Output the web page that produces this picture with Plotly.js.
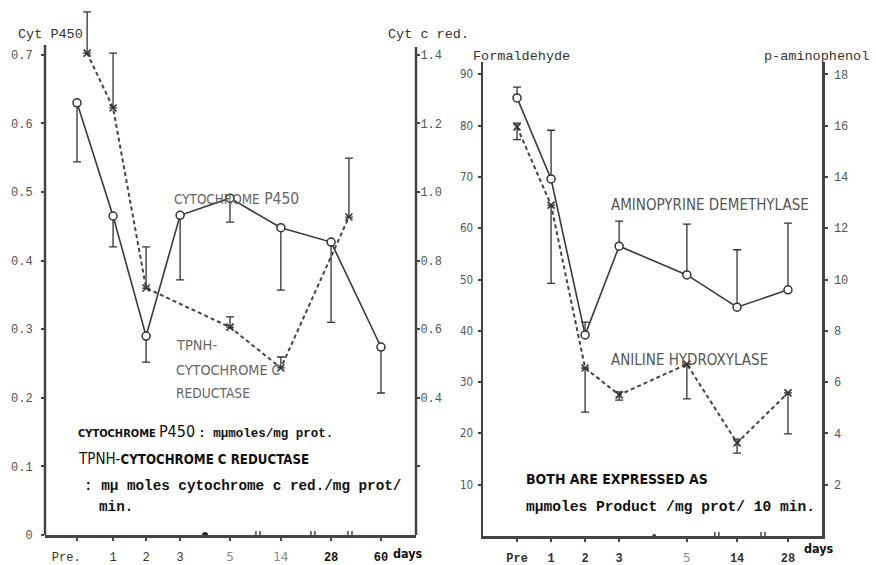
<!DOCTYPE html>
<html>
<head>
<meta charset="utf-8">
<script src="https://cdn.plot.ly/plotly-3.0.1.min.js"></script>
<style>
  html, body { margin: 0; padding: 0; background: #fff; }
  #chart { width: 876px; height: 565px; }
</style>
</head>
<body>
<div id="chart"></div>
<script>
// ---- Left panel: liver microsomal cytochromes ----
const leftDays = ['Pre.', '1', '2', '3', '5', '14', '28', '60'];
const p450 = [0.63, 0.465, 0.29, 0.466, 0.491, 0.448, 0.427, 0.274];
const p450Minus = [0.086, 0.045, 0.038, 0.094, 0.035, 0.091, 0.117, 0.067];
const tpnh = [1.405, 1.245, 0.72, null, 0.606, 0.487, 0.927, null];
const tpnhPlus = [0.12, 0.16, 0.12, null, 0.03, 0.032, 0.172, null];

// ---- Right panel: drug-metabolising enzymes ----
const rightDays = ['Pre', '1', '2', '3', '5', '14', '28'];
const aminopyrine = [85.4, 69.6, 39.2, 56.5, 50.9, 44.6, 48.0];
const aminopyrinePlus = [2.1, 9.5, 2.5, 4.9, 9.9, 11.2, 13.0];
const aniline = [15.95, 12.9, 6.55, 5.5, 6.7, 3.63, 5.58];
const anilinePlus = [0.15, 0, 0, 0.12, 0, 0.15, 0];
const anilineMinus = [0.5, 3.05, 1.72, 0.2, 1.35, 0.4, 1.6];

// Broken time axis: where each sampling day sits along the axis
const leftSlots = [0, 1.07, 2.05, 3.06, 4.54, 6.05, 7.54, 9.02];
const tpnhSlots = [0.3, 1.07, 2.05, 3.06, 4.54, 6.05, 8.07, 9.02];
const rightSlots = [0, 1.01, 2.02, 3.03, 5.04, 6.53, 8.04];
const leftBreaks = [5.37, 7.0, 8.1];
const rightBreaks = [5.93, 7.3];

const W = 876, H = 565;
const ink = '#333';
const mono = 'Liberation Mono, Courier New, monospace';
const narrow = 'DejaVu Sans Condensed, Liberation Sans Narrow, DejaVu Sans, sans-serif';

const grey5 = '<span style="color:#888;font-family:DejaVu Sans">5</span>';
const leftTickText = [
  'Pre.&nbsp;&nbsp;&nbsp;', '1', '2', '3', grey5,
  '<span style="color:#888;font-family:DejaVu Sans">14</span>',
  '<b style="color:#111">28</b>', '<b style="color:#111">60</b>'
];
const rightTickText = [
  '<b>Pre</b>', '<b>1</b>', '<b>2</b>', '<b>3</b>', grey5, '<b>14</b>', '<b>28</b>'
];

const errStyle = { color: ink, thickness: 1.3, width: 4 };

const traces = [
  {
    name: 'Cytochrome P450', x: leftSlots, y: p450, xaxis: 'x', yaxis: 'y',
    mode: 'lines+markers', cliponaxis: false,
    line: { color: '#3a3a3a', width: 1.6 },
    marker: { symbol: 'circle', size: 8, color: 'white', line: { color: ink, width: 1.5 } },
    error_y: Object.assign({ type: 'data', symmetric: false,
      array: p450.map(() => 0), arrayminus: p450Minus }, errStyle)
  },
  {
    name: 'TPNH-cytochrome c reductase', x: tpnhSlots, y: tpnh, xaxis: 'x', yaxis: 'y2',
    mode: 'lines+markers', connectgaps: true, cliponaxis: false,
    line: { color: '#444', width: 2, dash: '4px,3px' },
    marker: { symbol: 'x-thin', size: 7, line: { color: ink, width: 1.6 } },
    error_y: Object.assign({ type: 'data', symmetric: false,
      array: tpnhPlus, arrayminus: tpnh.map(v => v === null ? null : 0) }, errStyle)
  },
  {
    name: 'Aminopyrine demethylase', x: rightSlots, y: aminopyrine, xaxis: 'x2', yaxis: 'y3',
    mode: 'lines+markers', cliponaxis: false,
    line: { color: '#3a3a3a', width: 1.6 },
    marker: { symbol: 'circle', size: 8, color: 'white', line: { color: ink, width: 1.5 } },
    error_y: Object.assign({ type: 'data', symmetric: false,
      array: aminopyrinePlus, arrayminus: aminopyrine.map(() => 0) }, errStyle)
  },
  {
    name: 'Aniline hydroxylase', x: rightSlots, y: aniline, xaxis: 'x2', yaxis: 'y4',
    mode: 'lines+markers', cliponaxis: false,
    line: { color: '#444', width: 2, dash: '4px,3px' },
    marker: { symbol: 'x-thin', size: 7, line: { color: ink, width: 1.6 } },
    error_y: Object.assign({ type: 'data', symmetric: false,
      array: anilinePlus, arrayminus: anilineMinus }, errStyle)
  }
];

const axisBase = { showgrid: false, zeroline: false,
  ticks: 'outside', ticklen: 3, tickwidth: 2, tickcolor: '#444' };
const axisLine = Object.assign({ showline: true, linecolor: '#444', linewidth: 2.5 }, axisBase);

const tickFontY = { family: mono, size: 12, color: '#555' };
const tickFontX = { family: mono, size: 12, color: '#333' };

function px(x) { return x / W; }
function py(y) { return 1 - y / H; }

function note(x, y, text, font) {
  return { xref: 'paper', yref: 'paper', x: px(x), y: py(y), xanchor: 'left', yanchor: 'middle',
    text: text, showarrow: false, font: font };
}

const annotations = [
  note(16, 35, 'Cyt P450', { family: mono, size: 13.5, color: ink }),
  note(386, 35, 'Cyt c red.', { family: mono, size: 13.5, color: ink }),
  note(471, 57, 'Formaldehyde', { family: mono, size: 13.5, color: ink }),
  note(762, 57, 'p-aminophenol', { family: mono, size: 13.5, color: ink }),
  note(172, 199, '<span style="font-size:13.4px">CYTOCHROME</span> P450', { family: narrow, size: 15.5, color: '#666' }),
  note(174, 345, 'TPNH-', { family: narrow, size: 14.5, color: '#666' }),
  note(174, 370, 'CYTOCHROME C', { family: narrow, size: 14.3, color: '#666' }),
  note(174, 393, 'REDUCTASE', { family: narrow, size: 13.7, color: '#666' }),
  note(76, 431, '<b>CYTOCHROME</b> <span style="font-size:16px">P450</span> ' +
    '<span style="font-family:Liberation Mono;font-size:12.5px"><b>: mμmoles/mg prot.</b></span>',
    { family: narrow, size: 11, color: '#111' }),
  note(76, 459, '<span style="font-size:15px">TPNH-</span><b>CYTOCHROME C REDUCTASE</b>',
    { family: narrow, size: 13.2, color: '#111' }),
  note(82, 486, '<b>: mμ moles cytochrome c red./mg prot/</b>', { family: mono, size: 14.3, color: '#111' }),
  note(97, 507, '<b>min.</b>', { family: mono, size: 14.3, color: '#111' }),
  note(609, 205, 'AMINOPYRINE DEMETHYLASE', { family: narrow, size: 15, color: '#555' }),
  note(609, 360, 'ANILINE HYDROXYLASE', { family: narrow, size: 15, color: '#555' }),
  note(524, 479, '<b>BOTH ARE EXPRESSED AS</b>', { family: narrow, size: 14, color: '#111' }),
  note(524, 507, '<b>mμmoles Product /mg prot/ 10 min.</b>', { family: mono, size: 14.6, color: '#111' }),
  note(391, 553, '<b>days</b>', { family: narrow, size: 12.5, color: '#111' }),
  note(802, 548, '<b>days</b>', { family: narrow, size: 12.5, color: '#111' })
];

const shapes = [];
// Vertical spines of the left panel (error bars may rise above them)
[[45, 45], [416, 47]].forEach(([xp, top]) => shapes.push({
  type: 'line', xref: 'paper', yref: 'paper', x0: px(xp), x1: px(xp), y0: py(535), y1: py(top),
  line: { color: '#444', width: 2.5 }
}));
// Axis-break marks on the time axes
function breakMark(xref, yref, xv) {
  [-2, 2].forEach(dx => shapes.push({
    type: 'line', xref: xref, yref: yref, xsizemode: 'pixel', ysizemode: 'pixel',
    xanchor: xv, yanchor: 0, x0: dx, x1: dx, y0: -4, y1: 4,
    line: { color: '#444', width: 1.5 }
  }));
}
leftBreaks.forEach(v => breakMark('x', 'y', v));
rightBreaks.forEach(v => breakMark('x2', 'y3', v));
shapes.push({ type: 'circle', xref: 'x', yref: 'y', xsizemode: 'pixel', ysizemode: 'pixel',
  xanchor: 3.8, yanchor: 0, x0: -3, x1: 3, y0: -3, y1: 3, fillcolor: '#222', line: { width: 0 } });
shapes.push({ type: 'circle', xref: 'x2', yref: 'y3', xsizemode: 'pixel', ysizemode: 'pixel',
  xanchor: 4.07, yanchor: 0, x0: -2, x1: 2, y0: -2, y1: 2, fillcolor: '#444', line: { width: 0 } });

const layout = {
  width: W, height: H,
  margin: { l: 0, r: 0, t: 0, b: 0 },
  paper_bgcolor: 'white', plot_bgcolor: 'rgba(0,0,0,0)',
  showlegend: false,
  xaxis: Object.assign({}, axisLine, {
    domain: [px(45), px(416)], range: [-0.95, 10.06], anchor: 'y',
    tickmode: 'array', tickvals: leftSlots, ticktext: leftTickText,
    tickfont: tickFontX, ticklabelstandoff: 6
  }),
  yaxis: Object.assign({}, axisBase, {
    domain: [py(535), py(8)], range: [0, 0.7682], anchor: 'x',
    tickmode: 'array', tickvals: [0, 0.1, 0.2, 0.3, 0.4, 0.5, 0.6, 0.7],
    ticktext: ['0', '0.1', '0.2', '0.3', '0.4', '0.5', '0.6', '0.7'],
    tickfont: tickFontY, ticklabelstandoff: 6
  }),
  yaxis2: Object.assign({}, axisBase, {
    overlaying: 'y', side: 'right', anchor: 'x', range: [0, 1.5364],
    tickmode: 'array', tickvals: [0.2, 0.4, 0.6, 0.8, 1.0, 1.2, 1.4],
    ticktext: ['', '0.4', '0.6', '0.8', '1.0', '1.2', '1.4'],
    tickfont: tickFontY, ticklabelstandoff: -2
  }),
  xaxis2: Object.assign({}, axisLine, {
    domain: [px(483), px(822)], range: [-1.01, 9.05], anchor: 'y3',
    tickmode: 'array', tickvals: rightSlots, ticktext: rightTickText,
    tickfont: tickFontX, ticklabelstandoff: 6
  }),
  yaxis3: Object.assign({}, axisLine, {
    domain: [py(536), py(62)], range: [0, 92.4], anchor: 'x2',
    tickmode: 'array', tickvals: [10, 20, 30, 40, 50, 60, 70, 80, 90],
    tickfont: { family: narrow, size: 11.5, color: '#555' }, ticklabelstandoff: 2
  }),
  yaxis4: Object.assign({}, axisLine, {
    overlaying: 'y3', side: 'right', anchor: 'x2', range: [0, 18.48],
    tickmode: 'array', tickvals: [2, 4, 6, 8, 10, 12, 14, 16, 18],
    tickfont: tickFontY, ticklabelstandoff: 4
  }),
  annotations: annotations,
  shapes: shapes
};

Plotly.newPlot('chart', traces, layout, { staticPlot: true, displayModeBar: false });
</script>
</body>
</html>
